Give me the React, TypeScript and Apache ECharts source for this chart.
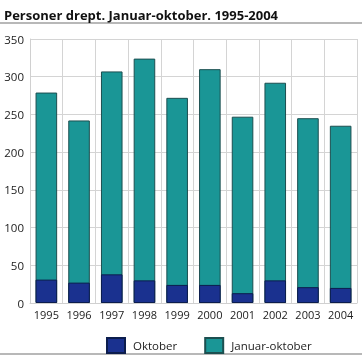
import React, { useEffect, useRef } from "react";
import * as echarts from "echarts";

const years = ["1995", "1996", "1997", "1998", "1999", "2000", "2001", "2002", "2003", "2004"];
const januarOktober = [279, 242, 307, 324, 272, 310, 247, 292, 245, 235];
const oktober = [31, 27, 38, 30, 24, 24, 13, 30, 21, 20];
const yTicks = { min: 0, max: 350, interval: 50 };

const FONT = "'Open Sans', 'Noto Sans', sans-serif";

export default function App() {
  const ref = useRef<HTMLDivElement>(null);
  useEffect(() => {
    if (!ref.current) return;
    const chart = echarts.init(ref.current, undefined, { renderer: "svg" });
    chart.setOption({
      animation: false,
      textStyle: { fontFamily: FONT },
      title: {
        text: "Personer drept. Januar-oktober. 1995-2004",
        left: -1,
        top: 3,
        textStyle: { fontFamily: FONT, fontSize: 13, fontWeight: "bold", color: "#111" },
      },
      graphic: [
        { type: "line", shape: { x1: 0, y1: 23, x2: 362, y2: 23 }, style: { stroke: "#a0a0a0", lineWidth: 1.5 } },
        { type: "line", shape: { x1: 0, y1: 354, x2: 362, y2: 354 }, style: { stroke: "#a0a0a0", lineWidth: 1.5 } },
      ],
      grid: { left: 30, right: 5, top: 39, bottom: 54 },
      legend: {
        data: ["Oktober", "Januar-oktober"],
        left: 106,
        top: 337,
        padding: 0,
        itemWidth: 18,
        itemHeight: 15,
        itemGap: 27,
        icon: "rect",
        textStyle: { fontFamily: FONT, fontSize: 11.5, color: "#222", padding: [0, 0, 0, 3] },
      },
      xAxis: {
        type: "category",
        data: years,
        axisTick: { show: false },
        axisLine: { show: true, lineStyle: { color: "#d0d0d0" } },
        axisLabel: { color: "#222", fontSize: 11, margin: 6, interval: 0, fontFamily: FONT },
        splitLine: { show: true, interval: 0, lineStyle: { color: "#d4d4d4", width: 1 } },
      },
      yAxis: {
        type: "value",
        min: yTicks.min,
        max: yTicks.max,
        interval: yTicks.interval,
        axisLine: { show: true, lineStyle: { color: "#d0d0d0" } },
        axisTick: { show: false },
        axisLabel: { color: "#222", fontSize: 11.5, margin: 6, fontFamily: FONT },
        splitLine: { show: true, lineStyle: { color: "#d4d4d4", width: 1 } },
      },
      series: [
        {
          name: "Januar-oktober",
          type: "bar",
          data: januarOktober,
          barWidth: "66%",
          barGap: "-100%",
          itemStyle: { color: "#1a9696", borderColor: "#1c4f50", borderWidth: 1 },
        },
        {
          name: "Oktober",
          type: "bar",
          data: oktober,
          barWidth: "66%",
          barGap: "-100%",
          itemStyle: { color: "#1a318f", borderColor: "#0c1d4d", borderWidth: 1 },
        },
      ],
    });
    return () => chart.dispose();
  }, []);
  return <div ref={ref} style={{ position: "fixed", left: 0, top: 0, width: 362, height: 357 }} />;
}
